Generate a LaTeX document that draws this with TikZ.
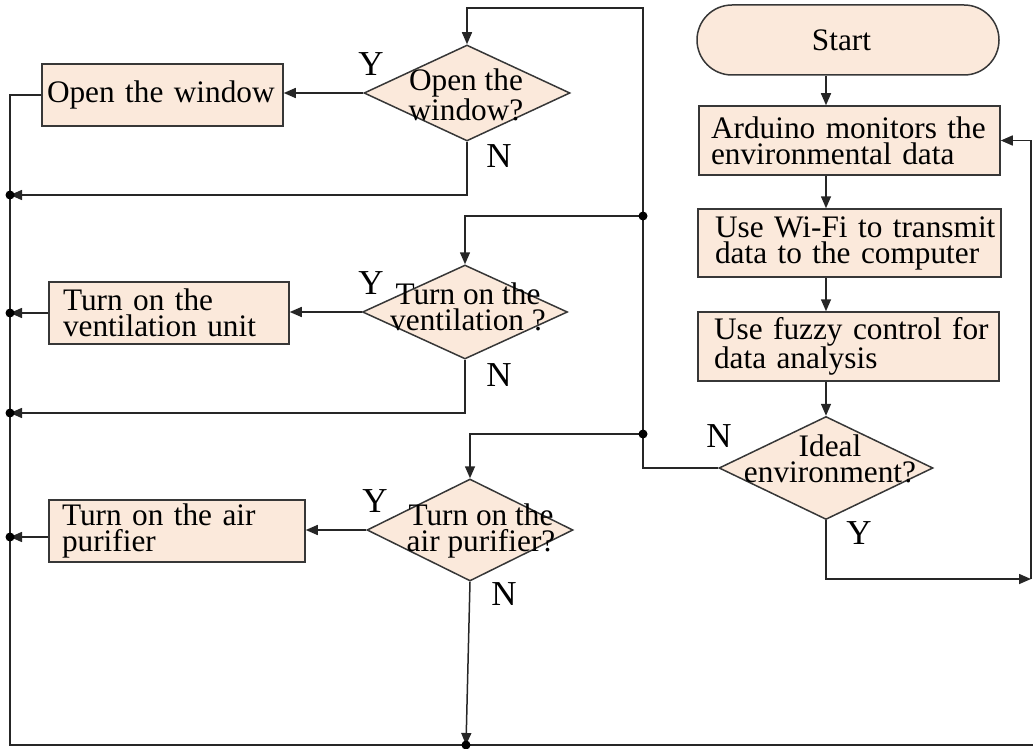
\documentclass[tikz,border=0pt]{standalone}
\usepackage{fontspec}
\setmainfont{Liberation Serif}
\usetikzlibrary{arrows.meta,shapes.geometric}
\definecolor{peach}{RGB}{251,233,219}
\definecolor{edge}{RGB}{55,55,55}
\begin{document}
\begin{tikzpicture}[x=1pt,y=-1pt,
  font=\fontsize{31.3}{26}\selectfont,
  box/.style={draw=edge, fill=peach, line width=1.5pt, rectangle, align=left, inner ysep=0pt},
  dec/.style={draw=edge, fill=peach, diamond, inner sep=0pt, line width=1.5pt},
  arr/.style={draw=black!85, line width=1.5pt, -{Triangle[length=12pt,width=10pt]}},
  ln/.style={draw=black!85, line width=1.5pt},
  dot/.style={circle, fill=black, inner sep=0pt, minimum size=9pt},
  lbl/.style={inner sep=0pt, align=center},
  yn/.style={inner sep=0pt, font=\fontsize{35}{35}\selectfont}
]
\useasboundingbox (0,0) rectangle (1033,749);

% main column
\node[box, rounded corners=35pt, minimum width=302pt, minimum height=70pt, align=none] (start) at (848,40) {\hspace*{-13pt}Start};
\node[box, minimum height=69pt, text width=277pt, inner xsep=12pt] (ard) at (849.5,140.5) {\mbox{Arduino monitors the}\\\mbox{environmental data}};
\node[box, minimum height=68pt, text width=269pt, inner xsep=17pt] (wifi) at (849.5,243) {\mbox{Use Wi-Fi to transmit}\\\mbox{data to the computer}};
\node[box, minimum height=69pt, text width=269pt, inner xsep=16pt] (fuzzy) at (848.5,346.5) {\mbox{Use fuzzy control for}\\\mbox{data analysis}};
\node[dec, minimum width=214pt, minimum height=103pt] (ideal) at (826,468) {};
\node[lbl] (tideal) at (830,459) {Ideal\\environment?};

% left boxes
\node[box, minimum height=62pt, text width=231pt, inner xsep=5pt] (win) at (162.5,95) {\mbox{Open the window}};
\node[box, minimum height=62pt, text width=212pt, inner xsep=14pt] (vent) at (169,313) {\mbox{Turn on the}\\\mbox{ventilation unit}};
\node[box, minimum height=62pt, text width=230pt, inner xsep=13pt] (air) at (177,531) {\mbox{Turn on the air}\\\mbox{purifier}};

% decisions
\node[dec, minimum width=206pt, minimum height=96pt] (d1) at (467,93) {};
\node[lbl] (t1) at (466,95) {Open the\\window?};
\node[dec, minimum width=205pt, minimum height=94pt] (d2) at (465,312) {};
\node[lbl] (t2) at (468,307) {Turn on the\\ventilation ?};
\node[dec, minimum width=206pt, minimum height=102pt] (d3) at (470,530) {};
\node[lbl] (t3) at (481,531) {Turn on the\\air purifier?};

% labels
\node[yn] (y1) at (371,64) {Y};
\node[yn] (n1) at (499,156) {N};
\node[yn] (y2) at (371,283) {Y};
\node[yn] (n2) at (499,375) {N};
\node[yn] (y3) at (375,501) {Y};
\node[yn] (n3) at (504,594) {N};
\node[yn] (n4) at (719,436) {N};
\node[yn] (y4) at (859,533) {Y};

% coordinates
\coordinate (mx) at (826,0);
\coordinate (r1) at (1031,579);
\coordinate (ntop) at (643,8);
\coordinate (k1) at (643,216);
\coordinate (k2) at (643,434);
\coordinate (bl) at (10,745);
\coordinate (br) at (1033,745);
\coordinate (j1) at (10,195);
\coordinate (j2) at (10,313);
\coordinate (j3) at (10,413);
\coordinate (j4) at (10,537);
\coordinate (j5) at (466,745);

% main flow
\draw[arr] (start.south -| mx) -- (ard.north -| mx);
\draw[arr] (ard.south -| mx) -- (wifi.north -| mx);
\draw[arr] (wifi.south -| mx) -- (fuzzy.north -| mx);
\draw[arr] (fuzzy.south -| mx) -- (ideal.north);
\draw[arr] (ideal.south) |- (r1);
\draw[arr] (r1) |- (ard.east);

% N branch of ideal
\draw[arr] (ideal.west) -| (ntop) -| (d1.north);
\draw[arr] (k1) -| (d2.north);
\draw[arr] (k2) -| (d3.north);
\node[dot] (dk1) at (k1) {};
\node[dot] (dk2) at (k2) {};

% Y branches
\draw[arr] (d1.west) -- (d1.west -| win.east);
\draw[arr] (d2.west) -- (d2.west -| vent.east);
\draw[arr] (d3.west) -- (d3.west -| air.east);

% left bus
\draw[ln] (win.west) -- (win.west -| bl) -- (bl) -- (br);
\draw[arr] (d1.south) |- (j1);
\draw[arr] (vent.west) -- (j2);
\draw[arr] (d2.south) |- (j3);
\draw[arr] (air.west |- j4) -- (j4);
\draw[arr] (d3.south) -- (j5);
\node[dot] (dj1) at (j1) {};
\node[dot] (dj2) at (j2) {};
\node[dot] (dj3) at (j3) {};
\node[dot] (dj4) at (j4) {};
\node[dot] (dj5) at (j5) {};
\end{tikzpicture}
\end{document}
